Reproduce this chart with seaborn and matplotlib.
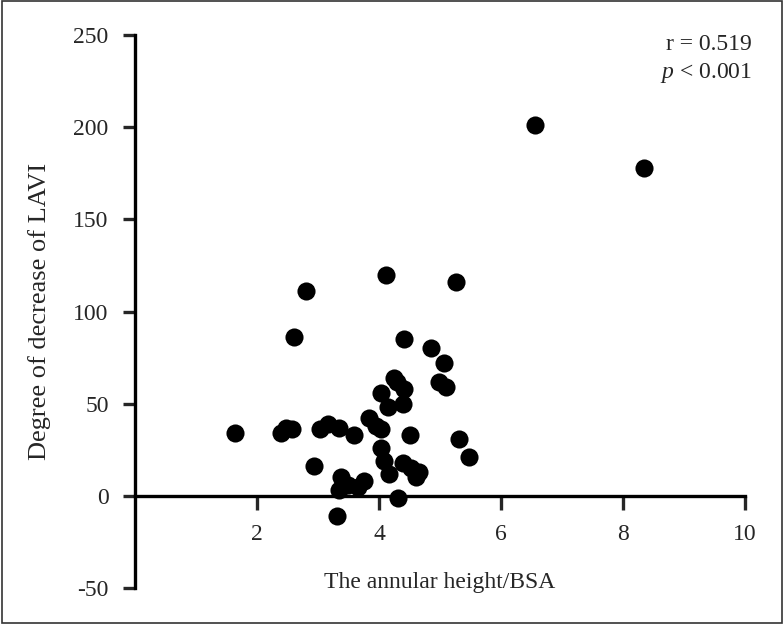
import numpy as np
import pandas as pd
import matplotlib
matplotlib.use("Agg")
import matplotlib.pyplot as plt
import seaborn as sns

sns.set_style("white")
plt.rcParams["font.family"] = ["Liberation Serif", "DejaVu Serif"]
plt.rcParams["axes.unicode_minus"] = False
plt.rcParams["mathtext.fontset"] = "custom"
plt.rcParams["mathtext.it"] = "Liberation Serif:italic"
plt.rcParams["mathtext.rm"] = "Liberation Serif"

# values
height_bsa = [1.64, 2.40, 2.48, 2.58, 2.94, 3.04, 3.17, 3.34, 3.59, 3.37,
              3.34, 3.50, 3.65, 3.75, 3.31, 3.84, 3.95, 4.04, 4.03, 4.08,
              4.17, 4.31, 4.40, 4.52, 4.66, 4.60, 4.51, 4.03, 4.25, 4.41,
              4.15, 4.40, 4.30, 4.98, 5.07, 5.10, 5.32, 5.47, 2.81, 2.60,
              4.12, 5.27, 4.41, 4.86, 6.55, 8.35]
lavi_decrease = [34, 34, 37, 36, 16, 36, 39, 37, 33, 10,
                 3, 6, 5, 8, -11, 42, 38, 36, 26, 19,
                 12, -1, 18, 15, 13, 10, 33, 56, 64, 58,
                 48, 50, 62, 62, 72, 59, 31, 21, 111, 86,
                 120, 116, 85, 80, 201, 178]

df = pd.DataFrame({"x": height_bsa, "y": lavi_decrease})

fig = plt.figure(figsize=(7.84, 6.24), dpi=100)
ax = fig.add_axes([0.1722, 0.0577, 0.778, 0.8862])

sns.scatterplot(data=df, x="x", y="y", color="black", s=170,
                edgecolor="black", linewidth=0, ax=ax)

ax.set_xlim(0, 10)
ax.set_ylim(-50, 250)
ax.set_xticks([2, 4, 6, 8, 10])
ax.set_yticks([-50, 0, 50, 100, 150, 200, 250])

ax.spines["left"].set_position(("data", 0))
ax.spines["bottom"].set_position(("data", 0))
ax.spines["top"].set_visible(False)
ax.spines["right"].set_visible(False)
for sp in ["left", "bottom"]:
    ax.spines[sp].set_linewidth(2.4)
    ax.spines[sp].set_color("black")

ax.tick_params(axis="x", direction="out", length=10, width=2.4, pad=10,
               labelsize=17, bottom=True)
ax.tick_params(axis="y", direction="out", length=9, width=2.4, pad=10,
               labelsize=17, left=True)

ax.set_xlabel("The annular height/BSA", fontsize=17)
ax.set_ylabel("Degree of decrease of LAVI", fontsize=19)
ax.xaxis.label.set_va("baseline")
ax.xaxis.set_label_coords(0.5, 0.0)
ax.yaxis.label.set_va("center")
ax.yaxis.set_label_coords(-0.157, 0.5)

ax.text(1.011, 0.973, "r = 0.519", transform=ax.transAxes, ha="right",
        va="baseline", fontsize=17)
ax.text(1.011, 0.922, "$p$ < 0.001", transform=ax.transAxes,
        ha="right", va="baseline", fontsize=17)

fig.patches.append(plt.Rectangle((0.002, 0.002), 0.996, 0.996,
                                 transform=fig.transFigure, fill=False,
                                 edgecolor="#333333", linewidth=1.2))

fig.savefig("out.png", dpi=100)
